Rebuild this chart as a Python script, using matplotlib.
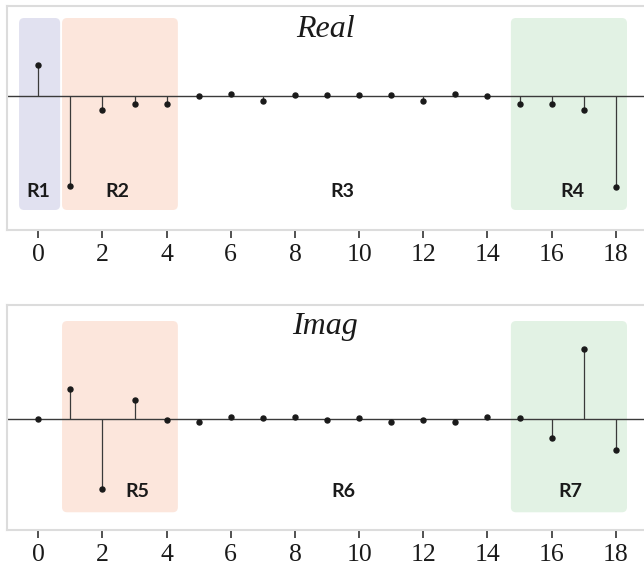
import matplotlib
matplotlib.use("Agg")
import matplotlib.pyplot as plt
from matplotlib.patches import FancyBboxPatch

# DFT coefficients (arbitrary units)
k = list(range(19))
real_vals = [3.1, -9.0, -1.4, -0.8, -0.75, 0.0, 0.2, -0.5, 0.15, 0.1,
             0.13, 0.1, -0.47, 0.2, 0.0, -0.77, -0.8, -1.4, -9.07]
imag_vals = [0.0, 3.0, -7.0, 1.87, -0.1, -0.3, 0.23, 0.07, 0.23, -0.07,
             0.07, -0.33, -0.1, -0.3, 0.23, 0.07, -1.93, 7.0, -3.07]

# shaded regions: (x0, x1, y0, y1, colour)
real_regions = [(-0.6, 0.68, -11.4, 7.8, '#e1e1f0'),
                (0.74, 4.35, -11.4, 7.8, '#fce6dc'),
                (14.73, 18.35, -11.4, 7.8, '#e2f2e4')]
imag_regions = [(0.74, 4.35, -9.3, 9.8, '#fce6dc'),
                (14.73, 18.35, -9.3, 9.8, '#e2f2e4')]
real_labels = [('R1', 0.0, -10.1), ('R2', 2.45, -10.1), ('R3', 9.47, -10.1), ('R4', 16.64, -10.1)]
imag_labels = [('R5', 3.08, -7.8), ('R6', 9.52, -7.8), ('R7', 16.57, -7.8)]

fig = plt.figure(figsize=(6.44, 5.66), dpi=100)
ax1 = fig.add_axes([7 / 644, 1 - 230 / 566, 637 / 644, 224 / 566])
ax2 = fig.add_axes([7 / 644, 1 - 529.7 / 566, 637 / 644, 224.7 / 566])


def draw_panel(ax, vals, regions, labels, title, ylim, title_y):
    ax.set_xlim(-0.976, 18.88)
    ax.set_ylim(*ylim)
    for x0, x1, y0, y1, c in regions:
        box = FancyBboxPatch((x0, y0), x1 - x0, y1 - y0,
                             boxstyle="round,pad=0,rounding_size=0.16",
                             mutation_aspect=3.2, fc=c, ec='none', zorder=0)
        ax.add_patch(box)
    ax.axhline(0, color='#3a3a3a', lw=1.0, zorder=1)
    ax.vlines(k, 0, vals, color='#3a3a3a', lw=0.9, zorder=2)
    ax.plot(k, vals, 'o', color='#1a1a1a', ms=3.6, zorder=3)
    for txt, x, y in labels:
        ax.text(x, y, txt, ha='center', va='baseline', fontsize=14,
                fontweight='bold', family=['Lato', 'DejaVu Sans'], color='#1a1a1a')
    ax.text(0.5, title_y, title, transform=ax.transAxes, ha='center',
            va='baseline', fontsize=23, style='italic',
            family='Liberation Serif', color='#1a1a1a')
    ax.set_xticks(range(0, 19, 2))
    ax.set_yticks([])
    for s in ['top', 'left', 'bottom']:
        ax.spines[s].set_color('#dcdcdc')
        ax.spines[s].set_linewidth(1.5)
    ax.spines['right'].set_visible(False)
    ax.tick_params(axis='x', length=6, width=1.1, color='#222222', pad=4)
    for lab in ax.get_xticklabels():
        lab.set_family('Liberation Serif')
        lab.set_fontsize(18.5)
        lab.set_color('#1a1a1a')


draw_panel(ax1, real_vals, real_regions, real_labels, 'Real', (-13.4, 9.0), 0.862)
draw_panel(ax2, imag_vals, imag_regions, imag_labels, 'Imag', (-11.04, 11.4), 0.871)

fig.savefig('out.png', dpi=100)
